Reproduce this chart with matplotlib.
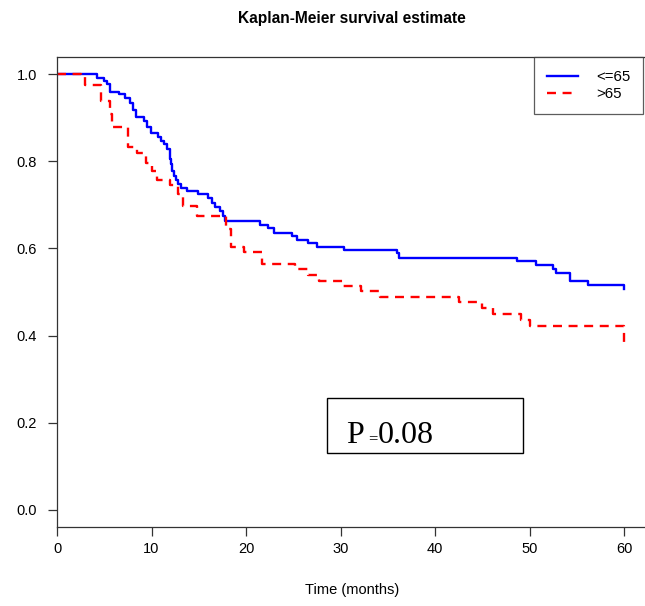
import matplotlib
matplotlib.use("Agg")
from matplotlib import pyplot as plt
from matplotlib.patches import Rectangle

plt.rcParams["font.family"] = ["Liberation Sans", "DejaVu Sans"]

# Kaplan-Meier steps (time in months, survival)
young_t = [0, 4.2, 5.0, 5.3, 5.6, 6.6, 7.2, 7.7, 8.0, 8.4, 9.2, 9.5, 9.9, 10.7, 11.0,
           11.3, 11.6, 11.9, 12.0, 12.1, 12.2, 12.4, 12.6, 12.8, 13.1, 13.8, 14.9, 16.0,
           16.4, 16.7, 17.2, 17.6, 17.8, 21.5, 22.3, 22.9, 24.9, 25.4, 26.5, 27.5, 30.4,
           36.0, 36.2, 48.6, 50.7, 52.5, 52.8, 54.3, 56.2, 60.0]
young_s = [1.0, 0.991, 0.986, 0.979, 0.959, 0.954, 0.945, 0.935, 0.919, 0.901, 0.894,
           0.880, 0.866, 0.857, 0.846, 0.839, 0.829, 0.818, 0.806, 0.793, 0.779, 0.767,
           0.758, 0.749, 0.740, 0.733, 0.726, 0.717, 0.705, 0.696, 0.687, 0.675, 0.664,
           0.654, 0.647, 0.636, 0.629, 0.620, 0.613, 0.604, 0.597, 0.590, 0.578, 0.571,
           0.562, 0.553, 0.544, 0.525, 0.516, 0.507]

old_t = [0, 2.5, 3.0, 4.7, 5.6, 5.8, 7.5, 8.5, 9.4, 10.0, 10.6, 11.9, 12.8, 13.3, 14.8,
         17.9, 18.4, 19.8, 21.7, 25.2, 26.5, 27.7, 30.3, 32.1, 34.2, 42.5, 45.0, 46.1,
         49.1, 50.0, 60.0]
old_s = [1.0, 0.995, 0.975, 0.940, 0.910, 0.880, 0.834, 0.820, 0.797, 0.779, 0.758,
         0.747, 0.726, 0.698, 0.675, 0.645, 0.604, 0.592, 0.565, 0.553, 0.539, 0.525,
         0.514, 0.502, 0.488, 0.477, 0.463, 0.449, 0.435, 0.422, 0.373]

labels = ["<=65", ">65"]
xticks = [0, 10, 20, 30, 40, 50, 60]
yticks = [0.0, 0.2, 0.4, 0.6, 0.8, 1.0]
p_text = "0.08"

fig = plt.figure(figsize=(6.45, 6.06), dpi=100)
ax = fig.add_axes([57/645, 1-527/606, (647-57)/645, (527-57)/606])

ax.step(young_t, young_s, where="post", color="#0000ff", lw=1.7, label=labels[0])
ax.step(old_t, old_s, where="post", color="#ff0000", lw=1.7, ls=(0, (3.8, 2.8)), label=labels[1])

ax.set_xlim(0, 62.4)
ax.set_ylim(-0.04, 1.04)
ax.set_xticks(xticks)
ax.set_yticks(yticks)
ax.set_yticklabels(["%.1f" % v for v in yticks])
ax.tick_params(axis="both", direction="out", length=6.5, width=0.9, labelsize=10.5, color="#333333")
ax.tick_params(axis="y", pad=8)
ax.tick_params(axis="x", pad=4)
for s in ax.spines.values():
    s.set_color("#333333")
    s.set_linewidth(0.9)

ax.set_xlabel("Time (months)", fontsize=10.5, labelpad=20)
fig.text(352/645, 1-19/606, "Kaplan-Meier survival estimate", ha="center", va="center",
         fontsize=11.2, fontweight="bold")

leg = ax.legend(loc="upper right", bbox_to_anchor=(1 - 4/590, 1.0), borderaxespad=0,
                fancybox=False, fontsize=10.8, handlelength=2.1, handletextpad=1.2,
                borderpad=0.85, labelspacing=0.25)
leg.get_frame().set_edgecolor("#333333")
leg.get_frame().set_linewidth(0.9)

# p-value box
ax.add_patch(Rectangle((28.6, 0.129), 20.7, 0.127, fill=False, ec="black", lw=1))
serif = ["Liberation Serif", "DejaVu Serif"]
ax.text(30.6, 0.152, "P", fontsize=23, family=serif, va="baseline")
ax.text(32.95, 0.152, "=", fontsize=12, family=serif, va="baseline")
ax.text(33.9, 0.152, p_text, fontsize=23, family=serif, va="baseline")

plt.savefig("out.png", dpi=100)
